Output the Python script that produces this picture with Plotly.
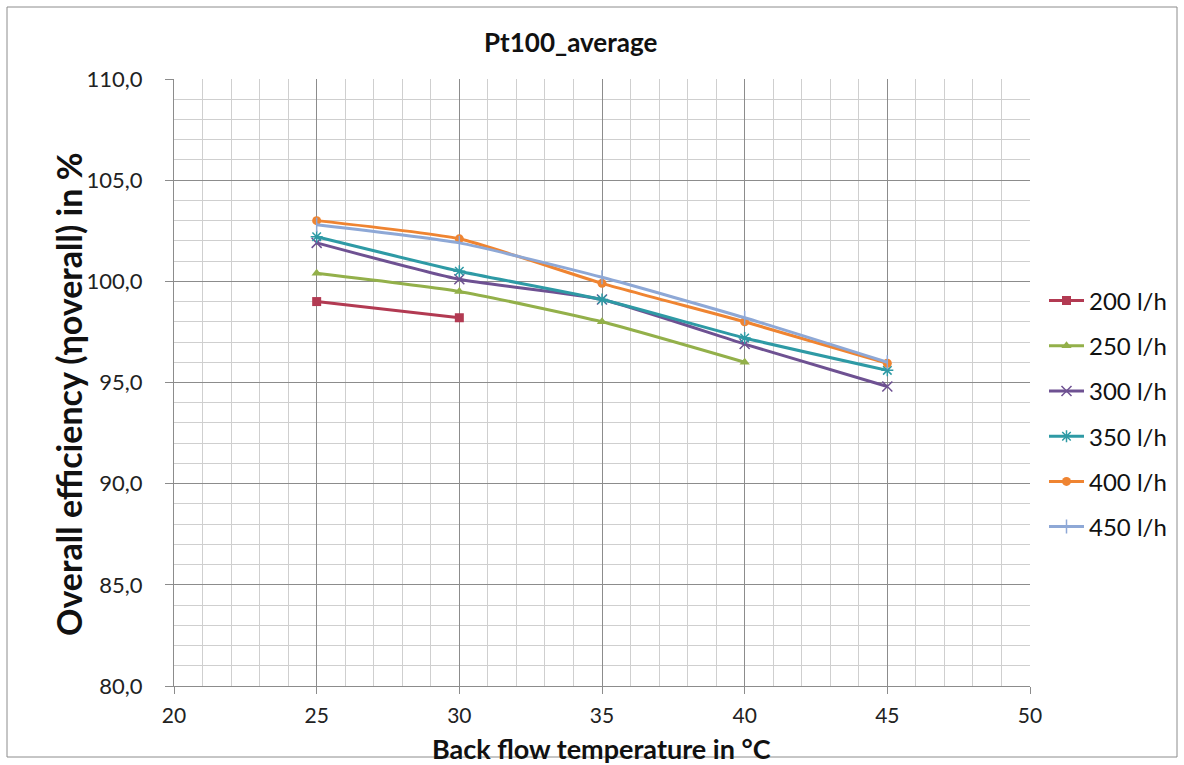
import plotly.graph_objects as go

x_temps = [25, 30, 35, 40, 45]
series_names = ["200 l/h", "250 l/h", "300 l/h", "350 l/h", "400 l/h", "450 l/h"]
eff_200 = [99.0, 98.2]
eff_250 = [100.4, 99.5, 98.0, 96.0]
eff_300 = [101.9, 100.1, 99.1, 96.9, 94.8]
eff_350 = [102.2, 100.5, 99.1, 97.2, 95.6]
eff_400 = [103.0, 102.1, 99.9, 98.0, 95.95]
eff_450 = [102.8, 101.9, 100.2, 98.2, 96.0]
all_vals = [eff_200, eff_250, eff_300, eff_350, eff_400, eff_450]

colors = ["#B23A52", "#93B04A", "#6E5192", "#2E9AA5", "#EF8431", "#8EA8D6"]
symbols = ["square", "triangle-up", "x-thin", "asterisk", "circle", "line-ns"]

FONT = "Lato, Open Sans, sans-serif"
W, H = 1184, 765
L, R, T, B = 174, 1030, 79, 686

fig = go.Figure()
for i, (name, vals) in enumerate(zip(series_names, all_vals)):
    thin = symbols[i] in ("x-thin", "asterisk", "line-ns")
    fig.add_trace(go.Scatter(
        x=x_temps[:len(vals)], y=vals, name=name, mode="lines+markers",
        legendgroup=name,
        line=dict(color=colors[i], width=3, shape="spline", smoothing=0.5),
        marker=dict(symbol=symbols[i], size=10 if thin else 9, color=colors[i],
                    line=dict(color=colors[i], width=1.5 if thin else 0)),
    ))

grid_major = "#8c8c8c"
grid_minor = "#cfcfcf"

fig.update_xaxes(
    range=[20, 50], dtick=5, tick0=20, showgrid=True, gridcolor=grid_major, gridwidth=1,
    minor=dict(dtick=1, showgrid=True, gridcolor=grid_minor, gridwidth=1),
    showline=True, linecolor=grid_major, linewidth=1, mirror=False,
    ticks="outside", ticklen=7, tickcolor=grid_major, ticklabelstandoff=4,
    tickfont=dict(family=FONT, size=21, color="#222"),
    zeroline=False, fixedrange=True,
)
fig.update_yaxes(
    range=[80, 110], dtick=5, tick0=80, tickformat=".1f", showgrid=True, gridcolor=grid_major, gridwidth=1,
    minor=dict(dtick=1, showgrid=True, gridcolor=grid_minor, gridwidth=1),
    showline=True, linecolor=grid_major, linewidth=1,
    ticks="outside", ticklen=8, tickcolor=grid_major, ticklabelstandoff=18,
    tickfont=dict(family=FONT, size=22, color="#222"),
    zeroline=False, fixedrange=True,
)

def px_x(p):
    return (p - L) / (R - L)

def px_y(p):
    return (B - p) / (B - T)

fig.add_shape(type="rect", xref="paper", yref="paper",
              x0=px_x(7), x1=px_x(1177), y0=px_y(757), y1=px_y(7),
              line=dict(color="#8c8c8c", width=1), fillcolor="rgba(0,0,0,0)", layer="below")

fig.add_annotation(text="<b>Pt100_average</b>", xref="paper", yref="paper",
                   x=px_x(570), y=px_y(42), xanchor="center", yanchor="middle", showarrow=False,
                   font=dict(family=FONT, size=26, color="#111"))

fig.add_annotation(text="<b>Back flow temperature in °C</b>", xref="paper", yref="paper",
                   x=px_x(601), y=px_y(748), xanchor="center", yanchor="middle", showarrow=False,
                   font=dict(family=FONT, size=27, color="#111"))

fig.add_annotation(text="<b>Overall efficiency (ηoverall) in %</b>", xref="paper", yref="paper",
                   x=px_x(68), y=px_y(394), xanchor="center", yanchor="middle", showarrow=False,
                   textangle=-90,
                   font=dict(family=FONT, size=34, color="#111"))

fig.update_layout(
    width=W, height=H,
    margin=dict(l=L, r=W - R, t=T, b=H - B),
    paper_bgcolor="white", plot_bgcolor="white",
    separators=",.",
    showlegend=True,
    legend=dict(x=px_x(1044), y=px_y(414), xanchor="left", yanchor="middle",
                font=dict(family=FONT, size=24, color="#111"),
                tracegroupgap=11, itemwidth=35, bgcolor="rgba(0,0,0,0)"),
)

fig.write_html("out.html")
